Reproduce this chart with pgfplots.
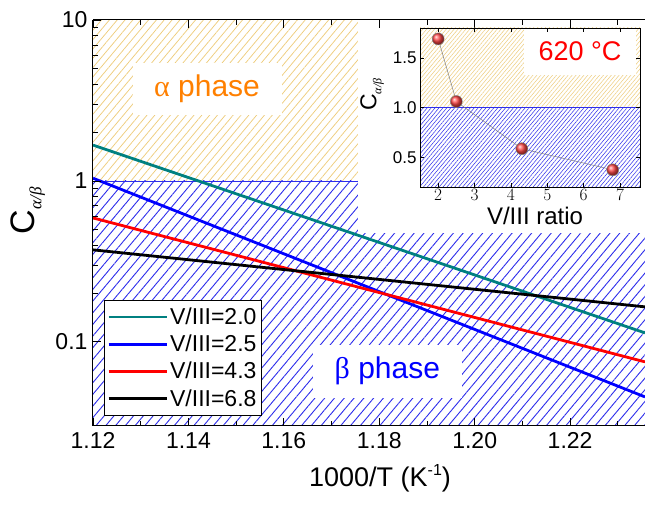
\documentclass[border=0pt]{standalone}
\usepackage{fontspec}
\setmainfont{Liberation Sans}
\newfontfamily\grk{Liberation Serif}
\usepackage{pgfplots}
\pgfplotsset{compat=1.18}
\usetikzlibrary{patterns.meta}

\definecolor{tealc}{RGB}{0,128,128}
\definecolor{hatchblue}{RGB}{45,45,235}
\definecolor{hatchyellow}{RGB}{238,205,125}
\definecolor{orangec}{RGB}{255,128,0}
\definecolor{ballred}{RGB}{255,70,70}

\newcommand{\fs}[1]{\fontsize{#1}{#1}\selectfont}

\begin{document}
\begin{tikzpicture}[x=1pt,y=1pt]
\useasboundingbox (0,0) rectangle (645,505);

% main panel
\begin{axis}[
  at={(93pt,79pt)}, anchor=south west,
  width=552pt, height=406pt, scale only axis,
  xmin=1.12, xmax=1.2357,
  ymode=log, ymin=0.03, ymax=10,
  axis x line=box, axis y line=left,
  axis line style={-, line width=1pt},
  axis on top,
  tick align=inside,
  major tick length=8pt, minor tick length=5pt,
  every tick/.style={black, line width=0.8pt},
  xtick={1.12,1.14,1.16,1.18,1.20,1.22},
  xticklabels={1.12,1.14,1.16,1.18,1.20,1.22},
  minor xtick={1.13,1.15,1.17,1.19,1.21,1.23},
  ytick={0.1,1,10},
  yticklabels={0.1,1,10},
  tick label style={font=\fs{23}},
  xticklabel style={yshift=-3pt},
  yticklabel style={xshift=-2pt},
  xlabel={1000/T (K\raisebox{11pt}{\fs{16}-1})},
  xlabel style={font=\fs{27}, at={(axis description cs:0.52,-0.128)}, anchor=center},
  ylabel={C\raisebox{-7pt}{\fs{17}\grk\itshape α/β}},
  ylabel style={font=\fs{34}, at={(axis description cs:-0.118,0.53)}, anchor=center},
  legend style={at={(0.02,0.025)}, anchor=south west, draw=black, line width=0.6pt,
    fill=white, font=\fs{23}, row sep=5pt, inner xsep=3pt, inner ysep=6pt},
  legend cell align=left,
  legend image code/.code={\draw[#1] (0pt,0pt) -- (58pt,0pt);},
]

% alpha region (hatched yellow)
\addplot[forget plot, draw=none, pattern={Lines[angle=50,distance=6pt,line width=0.75pt]}, pattern color=hatchyellow]
  coordinates {(1.12,1) (1.2357,1) (1.2357,10) (1.12,10)} -- cycle;
% beta region (hatched blue)
\addplot[forget plot, draw=none, pattern={Lines[angle=50,distance=7.5pt,line width=0.9pt]}, pattern color=hatchblue]
  coordinates {(1.12,0.03) (1.2357,0.03) (1.2357,1) (1.12,1)} -- cycle;
\addplot[forget plot, hatchblue, line width=0.6pt] coordinates {(1.12,1) (1.1756,1)};
% white area behind the inset
\addplot[forget plot, draw=none, fill=white]
  coordinates {(1.1756,0.475) (1.2357,0.475) (1.2357,10) (1.1756,10)} -- cycle;

% label boxes
\node[fill=white, minimum width=149pt, minimum height=52pt, inner sep=0pt,
  text=orangec, font=\fs{30}] at (axis cs:1.1439,3.75) {{\grk α} phase};
\node[fill=white, minimum width=149pt, minimum height=53pt, inner sep=0pt,
  text=blue, font=\fs{30}] at (axis cs:1.1817,0.0656) {{\grk β} phase};

\addplot[tealc, line width=2.8pt] coordinates {(1.12,1.67) (1.2357,0.1137)};
\addlegendentry{V/III=2.0}
\addplot[blue, line width=2.8pt] coordinates {(1.12,1.04) (1.2357,0.0455)};
\addlegendentry{V/III=2.5}
\addplot[red, line width=2.8pt] coordinates {(1.12,0.589) (1.2357,0.0751)};
\addlegendentry{V/III=4.3}
\addplot[black, line width=2.8pt] coordinates {(1.12,0.373) (1.2357,0.165)};
\addlegendentry{V/III=6.8}
\end{axis}

% inset
\begin{axis}[
  at={(420pt,318pt)}, anchor=south west,
  width=220pt, height=159pt, scale only axis,
  xmin=1.5, xmax=7.55, ymin=0.2, ymax=1.8,
  axis line style={line width=0.8pt},
  axis on top,
  tick align=inside,
  major tick length=4pt,
  every tick/.style={black, line width=0.6pt},
  xtick={2,3,4,5,6,7},
  ytick={0.5,1.0,1.5},
  yticklabels={0.5,1.0,1.5},
  tick label style={font=\fs{17}},
  xticklabel style={yshift=1pt},
  xlabel={V/III ratio},
  xlabel style={font=\fs{24}, at={(axis description cs:0.523,-0.182)}, anchor=center},
  ylabel={C\raisebox{-5pt}{\fs{12}\grk\itshape α/β}},
  ylabel style={font=\fs{23}, at={(axis description cs:-0.218,0.58)}, anchor=center},
]
\addplot[draw=none, pattern={Lines[angle=50,distance=3pt,line width=0.5pt]}, pattern color=hatchyellow]
  coordinates {(1.5,1.0) (7.55,1.0) (7.55,1.8) (1.5,1.8)} -- cycle;
\addplot[draw=none, pattern={Lines[angle=50,distance=3pt,line width=0.5pt]}, pattern color=hatchblue]
  coordinates {(1.5,0.2) (7.55,0.2) (7.55,1.0) (1.5,1.0)} -- cycle;
\addplot[hatchblue, line width=0.5pt] coordinates {(1.5,1.0) (7.55,1.0)};

\node[fill=white, minimum width=112pt, minimum height=47pt, inner sep=0pt,
  text=red, font=\fs{27}] at (axis cs:5.9,1.568) {620 °C};

\addplot[gray, line width=0.5pt, mark=ball, mark size=6pt, mark options={ball color=ballred}]
  coordinates {(2,1.69) (2.5,1.06) (4.3,0.585) (6.8,0.373)};
\end{axis}
\end{tikzpicture}
\end{document}
